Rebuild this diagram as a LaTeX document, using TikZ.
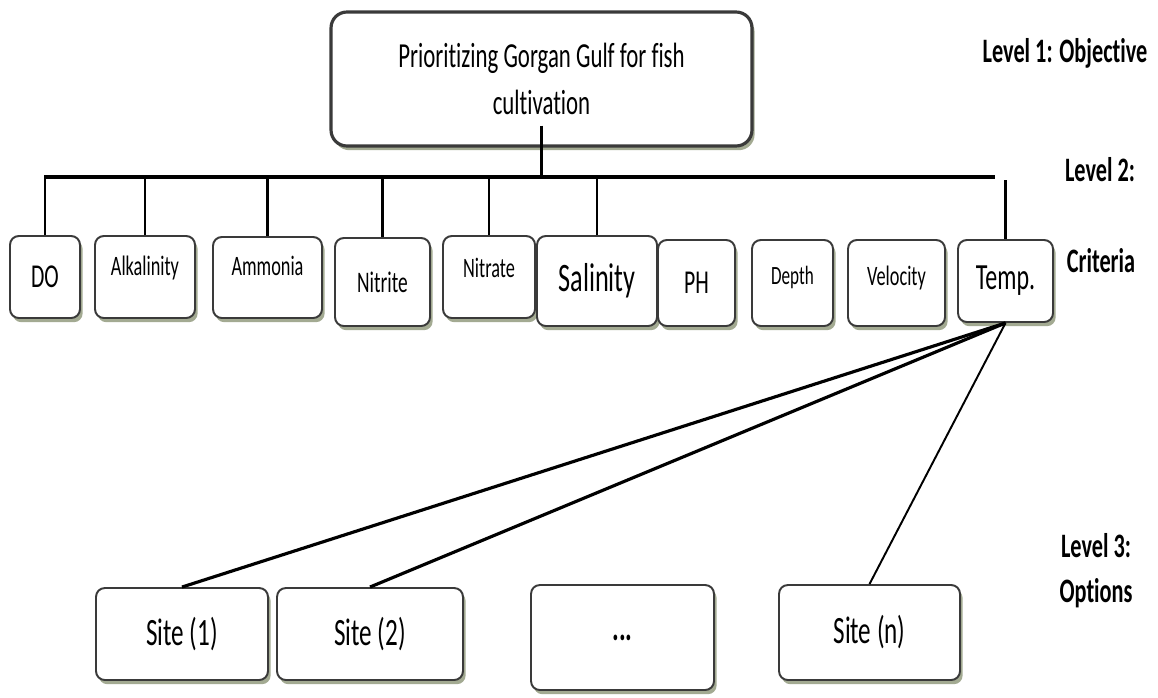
\documentclass[tikz,border=0pt]{standalone}
\usepackage{fontspec}
\setmainfont{Carlito}[FakeStretch=0.65,Ligatures=NoCommon]
\usepackage{tikz}
\usetikzlibrary{positioning,shadows}
\definecolor{boxline}{HTML}{3A3A3A}
\definecolor{shade}{HTML}{A3AA92}

\begin{document}
\begin{tikzpicture}[x=0.02cm,y=-0.02cm,
  box/.style={draw=boxline,line width=1.1pt,fill=white,rounded corners=5pt,inner sep=0pt,
    drop shadow={shadow xshift=1.5pt,shadow yshift=-2.4pt,fill=shade,opacity=1}},
  crit/.style={box,font=\fontsize{16}{19}\selectfont},
  site/.style={box,font=\fontsize{22}{26}\selectfont},
  lvl/.style={font=\bfseries\fontsize{19.5}{23}\selectfont},
  bus/.style={line width=2.2pt},
  stem/.style={line width=1.4pt}]
\useasboundingbox (0,0) rectangle (1158,697);
\node[box,line width=1.8pt,rounded corners=9pt,minimum width=8.42cm,minimum height=2.68cm,
  align=center,font=\fontsize{20}{27}\selectfont] (goal) at (541.5,79)
  {Prioritizing Gorgan Gulf for fish\\cultivation};
\node[crit,minimum width=1.4cm,minimum height=1.64cm,font=\fontsize{19}{22}\selectfont] (do) at (45,277) {DO};
\node[crit,minimum width=2.0cm,minimum height=1.64cm,text depth=0.45cm] (alk) at (145,277) {Alkalinity};
\node[crit,minimum width=2.18cm,minimum height=1.62cm,text depth=0.45cm] (amm) at (267.5,277.5) {Ammonia};
\node[crit,minimum width=1.9cm,minimum height=1.76cm,font=\fontsize{17}{20}\selectfont] (nitrite) at (382.5,282) {Nitrite};
\node[crit,minimum width=1.84cm,minimum height=1.64cm,text depth=0.35cm] (nitrate) at (489,277) {Nitrate};
\node[crit,minimum width=2.4cm,minimum height=1.8cm,font=\fontsize{23}{27}\selectfont] (sal) at (597,281) {Salinity};
\node[crit,minimum width=1.54cm,minimum height=1.72cm,font=\fontsize{19}{22}\selectfont] (ph) at (696.5,283) {PH};
\node[crit,minimum width=1.62cm,minimum height=1.72cm,font=\fontsize{15}{18}\selectfont,text depth=0.3cm] (depth) at (792.5,283) {Depth};
\node[crit,minimum width=1.94cm,minimum height=1.72cm,text depth=0.3cm] (vel) at (896.5,283) {Velocity};
\node[crit,minimum width=1.9cm,minimum height=1.64cm,font=\fontsize{21}{25}\selectfont] (temp) at (1005.5,281) {Temp.};
\node[site,minimum width=3.44cm,minimum height=1.84cm] (s1) at (182,634) {Site (1)};
\node[site,minimum width=3.72cm,minimum height=1.84cm] (s2) at (370,634) {Site (2)};
\node[site,minimum width=3.66cm,minimum height=2.1cm,font=\bfseries\fontsize{22}{26}\selectfont] (sdots) at (622.5,637.5) {...};
\node[site,minimum width=3.62cm,minimum height=1.9cm] (sn) at (869.5,632.5) {Site (n)};
\node[lvl] (lv1) at (1065,53) {Level 1: Objective};
\node[lvl] (lv2) at (1100,170) {Level 2:};
\node[lvl] (crt) at (1101,261) {Criteria};
\node[lvl] (lv3) at (1096,546) {Level 3:};
\node[lvl] (opt) at (1096,593) {Options};
\coordinate (busL) at (44,177);
\coordinate (busR) at (995,177);
\coordinate (tempTop) at (1006,180);
\draw[bus] (busL) -- (busR);
\draw[stem] ([yshift=0.44cm]goal.south) -- (goal.south |- busL);
\draw[stem] (do.north) -- (do.north |- busL);
\draw[stem] (alk.north) -- (alk.north |- busL);
\draw[stem] (amm.north) -- (amm.north |- busL);
\draw[stem] (nitrite.north) -- (nitrite.north |- busL);
\draw[stem] (nitrate.north) -- (nitrate.north |- busL);
\draw[stem] (sal.north) -- (sal.north |- busL);
\draw[stem] (temp.north) -- (temp.north |- tempTop);
\draw[line width=1.8pt] (temp.south) -- (s1.north);
\draw[line width=1.8pt] (temp.south) -- (s2.north);
\draw[line width=1.1pt] (temp.south) -- (sn.north);
\end{tikzpicture}
\end{document}
